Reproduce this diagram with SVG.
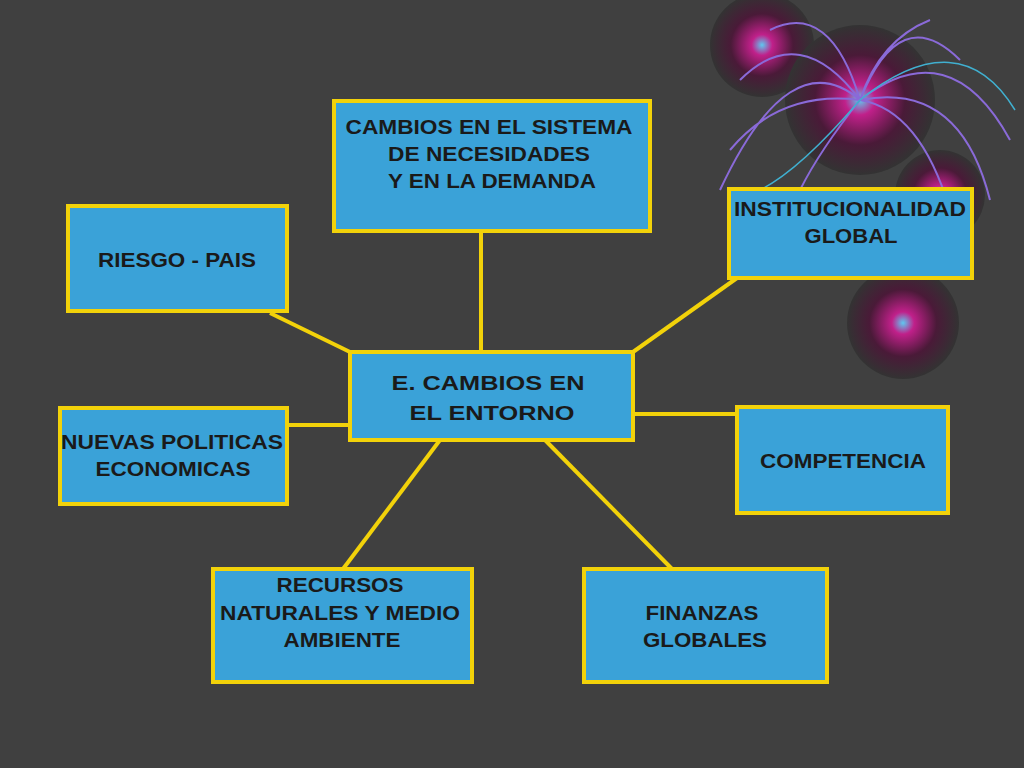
<svg xmlns="http://www.w3.org/2000/svg" width="1024" height="768" viewBox="0 0 1024 768">
<style>
.b{fill:#3aa2d8;stroke:#f2d20a;stroke-width:4}
.t{font-family:"Liberation Sans",Arial,sans-serif;font-weight:bold;font-size:20px;fill:#1a1a1a;text-anchor:middle}
.c{stroke:#f2d20a;stroke-width:4;fill:none}
.f{fill:none;stroke:#8a6ad8;stroke-width:2}
</style>
<defs>
<radialGradient id="s"><stop offset="0" stop-color="#5fc8f0"/><stop offset="0.2" stop-color="#c0208a"/><stop offset="0.6" stop-color="#4a1a38"/><stop offset="1" stop-color="#333"/></radialGradient>
</defs>
<rect width="1024" height="768" fill="#404040"/>
<g id="decor">
<circle cx="762" cy="45" r="52" fill="url(#s)"/>
<circle cx="860" cy="100" r="75" fill="url(#s)"/>
<circle cx="940" cy="195" r="45" fill="url(#s)"/>
<circle cx="903" cy="323" r="56" fill="url(#s)"/>
<path class="f" d="M860 100 Q790 40 720 190 M860 100 Q800 20 740 80 M860 100 Q830 0 770 30 M860 100 Q900 0 960 60 M860 100 Q950 30 1010 140 M860 100 Q960 80 990 200 M860 100 Q780 90 730 150 M860 100 Q880 40 930 20 M860 100 Q920 110 950 210 M860 100 Q820 150 800 190"/>
<path d="M860 100 Q960 20 1015 110 M860 100 Q800 170 760 190" fill="none" stroke="#40b0d0" stroke-width="1.5"/>
</g>
<g id="connectors">
<line class="c" x1="481" y1="231" x2="481" y2="352"/>
<line class="c" x1="270" y1="313" x2="350" y2="352"/>
<line class="c" x1="737" y1="278" x2="633" y2="352"/>
<line class="c" x1="287" y1="425" x2="350" y2="425"/>
<line class="c" x1="633" y1="414" x2="737" y2="414"/>
<line class="c" x1="440" y1="440" x2="343" y2="569"/>
<line class="c" x1="545" y1="440" x2="672" y2="569"/>
</g>
<g id="top"><rect class="b" x="334" y="101" width="316" height="130"/><text class="t" x="489" y="134" textLength="287" lengthAdjust="spacingAndGlyphs">CAMBIOS EN EL SISTEMA</text><text class="t" x="489" y="161" textLength="202" lengthAdjust="spacingAndGlyphs">DE NECESIDADES</text><text class="t" x="492" y="188" textLength="208" lengthAdjust="spacingAndGlyphs">Y EN LA DEMANDA</text></g>
<g id="riesgo"><rect class="b" x="68" y="206" width="219" height="105"/><text class="t" x="177" y="267" textLength="158" lengthAdjust="spacingAndGlyphs">RIESGO - PAIS</text></g>
<g id="inst"><rect class="b" x="729" y="189" width="243" height="89"/><text class="t" x="850" y="216" textLength="232" lengthAdjust="spacingAndGlyphs">INSTITUCIONALIDAD</text><text class="t" x="851" y="243" textLength="93" lengthAdjust="spacingAndGlyphs">GLOBAL</text></g>
<g id="center"><rect class="b" x="350" y="352" width="283" height="88"/><text class="t" x="488" y="390" font-size="23" textLength="193" lengthAdjust="spacingAndGlyphs">E. CAMBIOS EN</text><text class="t" x="492" y="420" font-size="23" textLength="165" lengthAdjust="spacingAndGlyphs">EL ENTORNO</text></g>
<g id="nuevas"><rect class="b" x="60" y="408" width="227" height="96"/><text class="t" x="172" y="449" textLength="222" lengthAdjust="spacingAndGlyphs">NUEVAS POLITICAS</text><text class="t" x="173" y="476" textLength="155" lengthAdjust="spacingAndGlyphs">ECONOMICAS</text></g>
<g id="comp"><rect class="b" x="737" y="407" width="211" height="106"/><text class="t" x="843" y="468" textLength="166" lengthAdjust="spacingAndGlyphs">COMPETENCIA</text></g>
<g id="recursos"><rect class="b" x="213" y="569" width="259" height="113"/><text class="t" x="340" y="592" textLength="127" lengthAdjust="spacingAndGlyphs">RECURSOS</text><text class="t" x="340" y="620" textLength="240" lengthAdjust="spacingAndGlyphs">NATURALES Y MEDIO</text><text class="t" x="342" y="647" textLength="117" lengthAdjust="spacingAndGlyphs">AMBIENTE</text></g>
<g id="finanzas"><rect class="b" x="584" y="569" width="243" height="113"/><text class="t" x="702" y="620" textLength="113" lengthAdjust="spacingAndGlyphs">FINANZAS</text><text class="t" x="705" y="647" textLength="124" lengthAdjust="spacingAndGlyphs">GLOBALES</text></g>
</svg>
